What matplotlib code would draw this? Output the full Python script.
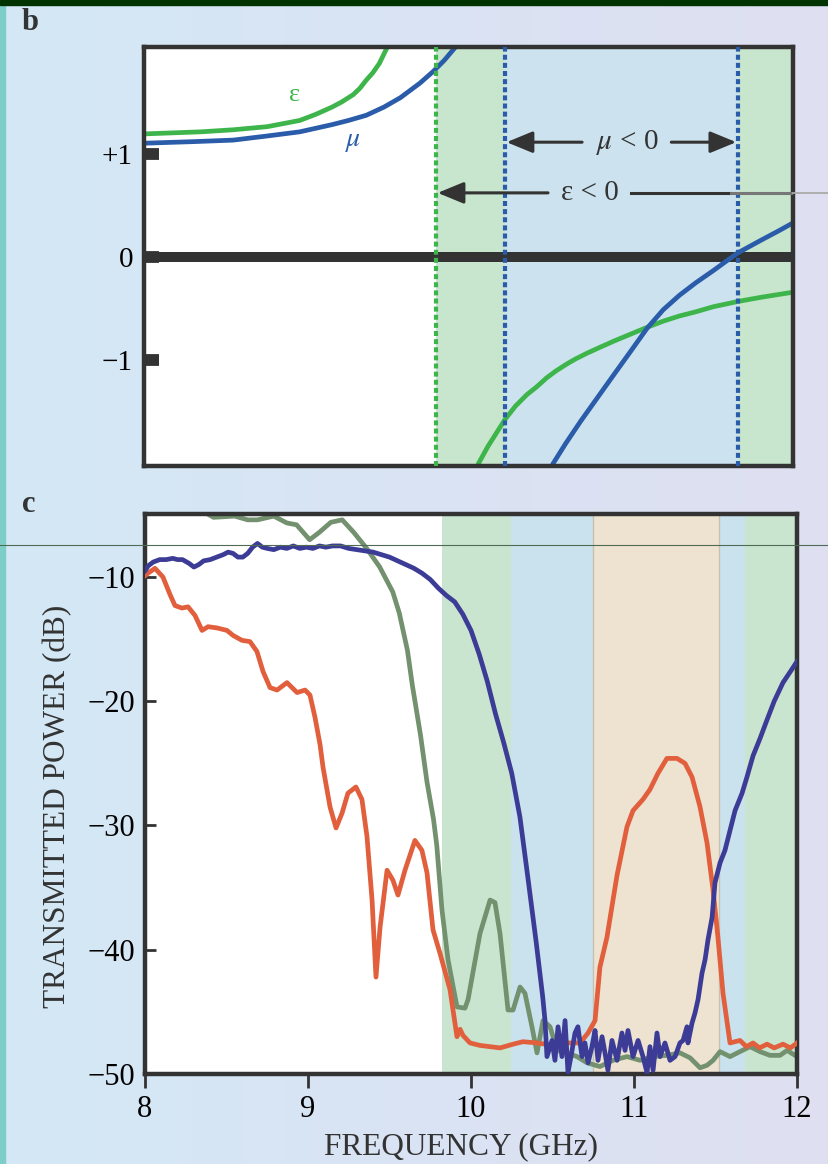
import numpy as np
import matplotlib
matplotlib.use('Agg')
import matplotlib.pyplot as plt
from matplotlib.lines import Line2D
from matplotlib.patches import Rectangle

plt.rcParams['font.family'] = ['Liberation Serif', 'DejaVu Serif']
plt.rcParams['mathtext.fontset'] = 'stix'

# ---- panel b: epsilon / mu sketch ----
eps_up_f = [8.0, 8.35, 8.55, 8.76, 8.96, 9.06, 9.16, 9.22, 9.29, 9.33, 9.37, 9.41, 9.45, 9.475, 9.50, 9.53]
eps_up_v = [1.19, 1.21, 1.23, 1.26, 1.32, 1.38, 1.45, 1.50, 1.57, 1.63, 1.71, 1.78, 1.87, 1.95, 2.03, 2.20]
eps_lo_f = [10.04, 10.06, 10.12, 10.225, 10.29, 10.36, 10.42, 10.48, 10.54, 10.61, 10.66, 10.73, 10.80,
            10.90, 11.0, 11.10, 11.2, 11.30, 11.4, 11.51, 11.66, 11.80, 12.0]
eps_lo_v = [-2.15, -2.0, -1.83, -1.57, -1.44, -1.33, -1.255, -1.17, -1.10, -1.03, -0.985, -0.93, -0.88,
            -0.81, -0.745, -0.68, -0.62, -0.57, -0.53, -0.48, -0.43, -0.39, -0.34]
mu_up_f = [8.0, 8.3, 8.55, 8.76, 8.96, 9.06, 9.16, 9.26, 9.37, 9.48, 9.58, 9.64, 9.70, 9.78, 9.85, 9.92, 9.96]
mu_up_v = [1.10, 1.115, 1.13, 1.17, 1.21, 1.245, 1.28, 1.32, 1.37, 1.45, 1.54, 1.61, 1.68, 1.79, 1.90, 2.03, 2.15]
mu_lo_f = [10.50, 10.52, 10.60, 10.69, 10.79, 10.89, 11.0, 11.10, 11.2, 11.30, 11.4, 11.51, 11.58,
           11.66, 11.8, 11.92, 12.0]
mu_lo_v = [-2.15, -2.0, -1.80, -1.59, -1.37, -1.15, -0.91, -0.69, -0.51, -0.37, -0.25, -0.13, -0.05,
           0.04, 0.16, 0.26, 0.33]

eps_neg_start = 9.80
mu_neg_start = 10.225
mu_neg_end = 11.66

# ---- panel c: transmitted power (dB) ----
green_f = [8.30, 8.42, 8.55, 8.63, 8.69, 8.79, 8.87, 8.93, 9.01, 9.07, 9.14, 9.21, 9.28, 9.36, 9.44,
           9.52, 9.56, 9.61, 9.64, 9.69, 9.73, 9.77, 9.79, 9.822, 9.859, 9.914, 9.963, 9.982, 10.055,
           10.117, 10.147, 10.178, 10.227, 10.258, 10.301, 10.331, 10.374, 10.405, 10.442, 10.485,
           10.528, 10.589, 10.650, 10.712, 10.791, 10.871, 10.957, 11.037, 11.117, 11.202, 11.282,
           11.344, 11.405, 11.448, 11.485, 11.528, 11.589, 11.650, 11.712, 11.773, 11.834, 11.896,
           11.939, 12.0]
green_db = [-4.3, -5.2, -5.1, -5.4, -5.4, -5.1, -5.65, -5.8, -7.0, -6.4, -5.6, -5.4, -6.4, -7.7, -9.2,
            -11.2, -12.9, -15.9, -18.7, -22.7, -26.5, -29.5, -31.6, -36.8, -40.8, -44.6, -44.7, -44.0,
            -38.7, -36.0, -36.2, -38.7, -44.85, -44.85, -43.0, -43.5, -46.2, -48.3, -45.7, -46.2,
            -48.1, -48.3, -48.6, -49.1, -49.4, -48.9, -48.6, -48.9, -48.6, -48.5, -48.3, -48.7, -49.5,
            -49.3, -48.9, -48.2, -48.6, -48.2, -47.8, -48.2, -48.5, -48.5, -48.1, -48.6]

blue_f = [8.00, 8.02, 8.05, 8.09, 8.13, 8.17, 8.20, 8.23, 8.27, 8.30, 8.33, 8.36, 8.40, 8.44, 8.48,
          8.51, 8.54, 8.57, 8.60, 8.63, 8.66, 8.69, 8.72, 8.75, 8.79, 8.83, 8.87, 8.91, 8.95, 8.99,
          9.03, 9.07, 9.11, 9.15, 9.20, 9.25, 9.30, 9.35, 9.40, 9.45, 9.50, 9.55, 9.60, 9.65, 9.70,
          9.75, 9.80, 9.85, 9.90, 9.95, 10.00, 10.05, 10.10, 10.15, 10.20, 10.25, 10.30, 10.35,
          10.40, 10.44, 10.454, 10.466, 10.497, 10.515, 10.534, 10.558, 10.577, 10.595, 10.620,
          10.638, 10.656, 10.681, 10.699, 10.718, 10.742, 10.761, 10.779, 10.804, 10.822, 10.840,
          10.865, 10.896, 10.926, 10.945, 10.963, 10.994, 11.025, 11.055, 11.080, 11.098, 11.117,
          11.141, 11.160, 11.190, 11.221, 11.252, 11.282, 11.301, 11.325, 11.331, 11.356, 11.374,
          11.393, 11.417, 11.436, 11.454, 11.479, 11.497, 11.528, 11.558, 11.589, 11.620, 11.663,
          11.693, 11.730, 11.773, 11.816, 11.860, 11.914, 11.960, 12.0]
blue_db = [-9.5, -9.1, -8.8, -8.6, -8.6, -8.5, -8.6, -8.6, -8.9, -9.2, -9.0, -8.7, -8.6, -8.4, -8.2,
           -8.0, -8.1, -8.4, -8.4, -8.1, -7.6, -7.3, -7.6, -7.7, -7.8, -7.6, -7.7, -7.5, -7.7, -7.6,
           -7.7, -7.5, -7.6, -7.5, -7.5, -7.7, -7.8, -7.9, -8.0, -8.2, -8.4, -8.7, -9.0, -9.3, -9.7,
           -10.2, -10.9, -11.5, -12.0, -13.0, -14.3, -16.2, -18.4, -21.0, -23.3, -25.8, -29.3, -34.3,
           -39.4, -43.8, -45.7, -48.6, -47.3, -48.9, -46.2, -48.6, -45.7, -49.9, -48.1,
           -46.7, -46.2, -48.6, -47.5, -49.1, -47.8, -46.5, -48.9, -47.0, -48.3, -49.7,
           -47.3, -48.9, -46.7, -48.1, -46.5, -48.6, -47.3, -48.6, -49.9, -47.8, -49.7,
           -46.7, -48.6, -47.5, -48.9, -48.6, -47.5, -47.3, -46.2, -47.5, -45.9, -45.1,
           -44.0, -41.9, -40.8, -39.2, -37.4, -34.6, -33.0, -32.0, -30.4, -28.8, -27.4,
           -26.1, -24.4, -23.0, -21.5, -20.0, -18.5, -17.6, -16.8]

orange_f = [8.00, 8.018, 8.061, 8.110, 8.153, 8.184, 8.227, 8.264, 8.307, 8.350, 8.387, 8.442, 8.503,
            8.540, 8.595, 8.644, 8.687, 8.724, 8.767, 8.810, 8.871, 8.933, 8.982, 9.012, 9.043, 9.074,
            9.092, 9.135, 9.172, 9.209, 9.245, 9.294, 9.331, 9.362, 9.393, 9.417, 9.442, 9.485, 9.521,
            9.552, 9.595, 9.656, 9.699, 9.730, 9.767, 9.810, 9.871, 9.914, 9.933, 9.951, 9.994,
            10.055, 10.117, 10.178, 10.258, 10.319, 10.405, 10.503, 10.589, 10.669, 10.718, 10.761,
            10.791, 10.834, 10.896, 10.957, 10.994, 11.055, 11.098, 11.147, 11.202, 11.264, 11.313,
            11.356, 11.405, 11.448, 11.485, 11.515, 11.546, 11.589, 11.650, 11.690, 11.730, 11.770,
            11.816, 11.860, 11.914, 11.960, 12.0]
orange_db = [-9.9, -9.7, -9.3, -10.0, -11.4, -12.3, -12.5, -12.4, -13.1, -14.3, -14.0, -14.1, -14.3,
             -14.7, -15.1, -15.2, -16.0, -17.6, -18.9, -19.1, -18.5, -19.3, -19.1, -19.5, -21.3,
             -23.5, -25.3, -28.5, -30.2, -29.0, -27.4, -26.9, -27.9, -30.9, -36.0, -42.2, -38.2,
             -33.6, -34.4, -35.6, -33.6, -31.2, -32.0, -33.8, -38.4, -40.3, -43.2, -47.0, -46.4,
             -46.9, -47.5, -47.7, -47.8, -47.9, -47.6, -47.4, -47.5, -47.7, -47.5, -47.5, -46.7,
             -45.7, -41.4, -39.0, -34.0, -30.1, -28.8, -27.9, -27.1, -25.8, -24.6, -24.6, -25.0,
             -26.1, -28.5, -31.4, -35.2, -39.0, -43.5, -47.5, -47.3, -47.8, -47.5, -47.9, -47.6,
             -47.9, -47.6, -47.9, -47.5]

# shaded bands in panel c
green_bands = [(9.82, 10.245), (11.68, 12.0)]
blue_bands = [(10.245, 10.75), (11.52, 11.68)]
tan_band = (10.75, 11.52)

W, H = 829, 1164
fig = plt.figure(figsize=(W / 100, H / 100), dpi=100)

# page background
bg = fig.add_axes([0, 0, 1, 1], zorder=-10)
g = np.linspace(0, 1, 256)[None, :, None]
left_c = np.array([0.83, 0.91, 0.965])
right_c = np.array([0.875, 0.875, 0.945])
bg.imshow(left_c * (1 - g) + right_c * g, aspect='auto', extent=[0, 1, 0, 1])
bg.axis('off')
fig.add_artist(Rectangle((0, 0), 5 / W, 1, transform=fig.transFigure, color='#7dcdc8', zorder=1))
fig.add_artist(Rectangle((0, 1 - 5 / H), 1, 5 / H, transform=fig.transFigure, color='#013301', zorder=1))

spine_c = '#333333'
green_c = '#3db54a'
blue_c = '#2a5caa'

# ---------------- panel b ----------------
axb = fig.add_axes([144 / W, 1 - 466 / H, (793 - 144) / W, (466 - 47) / H])
axb.set_xlim(8, 12)
axb.set_ylim(-2.02, 2.03)
axb.axvspan(eps_neg_start, 12, color='#c8e5cd', lw=0, zorder=0)
axb.axvspan(mu_neg_start, mu_neg_end, color='#cce2ee', lw=0, zorder=0.5)
axb.axhline(0, color=spine_c, lw=7.2, zorder=1)
for f_, v_, c_ in [(eps_up_f, eps_up_v, green_c), (eps_lo_f, eps_lo_v, green_c),
                   (mu_up_f, mu_up_v, blue_c), (mu_lo_f, mu_lo_v, blue_c)]:
    axb.plot(f_, v_, color=c_, lw=3.4, solid_joinstyle='round', zorder=2)
dot = (0, (1.2, 0.75))
axb.axvline(eps_neg_start, color=green_c, lw=3, ls=dot, zorder=3)
axb.axvline(mu_neg_start, color=blue_c, lw=3, ls=dot, zorder=3)
axb.axvline(mu_neg_end, color=blue_c, lw=3, ls=dot, zorder=3)

axb.text(8.93, 1.57, 'ε', color=green_c, fontsize=19, ha='center', va='center')
axb.text(9.29, 1.12, r'$\mu$', color=blue_c, fontsize=20, ha='center', va='center')

arrow = dict(arrowstyle='-|>,head_length=0.8,head_width=0.33', color=spine_c, lw=2.2,
             shrinkA=0, shrinkB=0, mutation_scale=20)
axb.text(10.977, 1.11, r'$\mu$ < 0', ha='center', va='center', fontsize=21, color=spine_c)
axb.annotate('', xy=(mu_neg_start + 0.01, 1.11), xytext=(10.70, 1.11), arrowprops=arrow)
axb.annotate('', xy=(mu_neg_end - 0.01, 1.11), xytext=(11.25, 1.11), arrowprops=arrow)
axb.text(10.75, 0.62, 'ε < 0', ha='center', va='center', fontsize=21, color=spine_c)
axb.annotate('', xy=(eps_neg_start + 0.01, 0.62), xytext=(10.49, 0.62), arrowprops=arrow)
axb.plot([11.0, 11.62], [0.62, 0.62], color=spine_c, lw=2.2, zorder=4)
axb.plot([11.62, 12.0], [0.62, 0.62], color='#777777', lw=2.2, zorder=4)
axb.plot([12.0, 12.22], [0.62, 0.62], color='#aaaaaa', lw=1.3, zorder=4, clip_on=False)

axb.set_xticks([])
axb.set_yticks([-1, 0, 1])
axb.set_yticklabels(['−1', '0', '+1'], fontsize=21)
axb.tick_params(axis='y', direction='in', length=11, width=8.5, color=spine_c, pad=8)
for s in axb.spines.values():
    s.set_color(spine_c)
    s.set_linewidth(3.2)

# ---------------- panel c ----------------
axc = fig.add_axes([145 / W, 1 - 1074 / H, (797 - 145) / W, (1074 - 514) / H])
axc.set_xlim(8, 12)
axc.set_ylim(-50, -4.93)
for a, b in green_bands:
    axc.axvspan(a, b, color='#c9e5cf', lw=0, zorder=0)
for a, b in blue_bands:
    axc.axvspan(a, b, color='#c9e2ee', lw=0, zorder=0)
axc.axvspan(*tan_band, color='#ede3d0', lw=0, zorder=0)
for x in tan_band:
    axc.axvline(x, color='#c9c0b0', lw=1, zorder=0.5)

axc.plot(green_f, green_db, color='#73916e', lw=3.4, solid_joinstyle='round', zorder=2)
axc.plot(orange_f, orange_db, color='#e15f3c', lw=3.4, solid_joinstyle='round', zorder=3)
axc.plot(blue_f, blue_db, color='#3c3c96', lw=3.4, solid_joinstyle='round', zorder=4)

axc.set_xticks([8, 9, 10, 11, 12])
axc.set_yticks([-50, -40, -30, -20, -10])
axc.tick_params(axis='both', labelsize=22, color=spine_c, width=2)
axc.tick_params(axis='y', direction='in', length=8, pad=7)
axc.tick_params(axis='x', direction='out', length=10, pad=5)
for s in axc.spines.values():
    s.set_color(spine_c)
    s.set_linewidth(3.2)

fig.text(58 / W, 1 - 806 / H, 'TRANSMITTED POWER (dB)', rotation=90, ha='center', va='center',
         fontsize=22.5, color='#333333')
fig.text(461 / W, 1 - 1147 / H, 'FREQUENCY (GHz)', ha='center', va='center',
         fontsize=22.5, color='#333333')
fig.text(22 / W, 1 - 30 / H, 'b', fontsize=22, fontweight='bold', ha='left', va='baseline', color='#333333')
fig.text(22 / W, 1 - 512 / H, 'c', fontsize=22, fontweight='bold', ha='left', va='baseline', color='#333333')

# thin scan line across the page
fig.add_artist(Line2D([0, 1], [1 - 545 / H] * 2, transform=fig.transFigure,
                      color='#4d6b55', lw=0.8, zorder=20))

fig.savefig('out.png', dpi=100)
